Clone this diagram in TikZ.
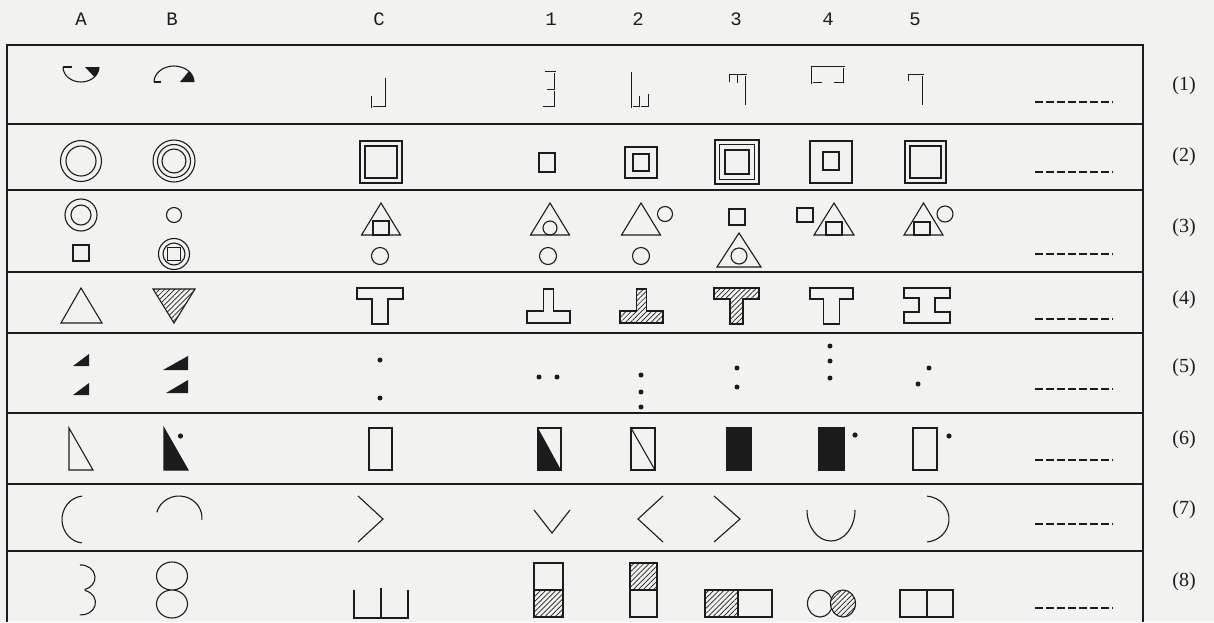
\documentclass[tikz,border=0pt]{standalone}
\usepackage{fontspec}
\setmainfont{Liberation Serif}
\setmonofont{Liberation Mono}
\usetikzlibrary{patterns.meta}
\definecolor{ink}{RGB}{28,28,28}
\definecolor{paper}{RGB}{242,242,240}
\begin{document}
\begin{tikzpicture}[x=1pt,y=-1pt,
  sym/.style={draw=ink,line width=1.1pt,line join=miter},
  hollow/.style={draw=paper,line width=0.9pt,preaction={draw=ink,line width=2.9pt}},
  hatch/.style={preaction={fill=paper},pattern={Lines[angle=45,distance=3.6pt,line width=0.7pt]},pattern color=ink},
  rule/.style={draw=ink,line width=1.5pt},
  blank/.style={draw=ink,line width=1.3pt,dash pattern=on 8pt off 3pt},
  head/.style={font=\ttfamily\fontsize{19}{19}\selectfont,text=ink},
  lab/.style={font=\fontsize{20}{20}\selectfont,text=ink}
]
\fill[paper] (0,0) rectangle (1214,622);
\useasboundingbox (0,0) rectangle (1214,622);

% header
\node[head] (hA) at (81,19) {A};
\node[head] (hB) at (172,19) {B};
\node[head] (hC) at (379,19) {C};
\node[head] (h1) at (551,19) {1};
\node[head] (h2) at (638,19) {2};
\node[head] (h3) at (736,19) {3};
\node[head] (h4) at (828,19) {4};
\node[head] (h5) at (915,19) {5};

% frame and rules
\draw[rule] (7,622) -- (7,45) -- (1143,45) -- (1143,622);
\foreach \y in {124,190,272,333,413,484,551} \draw[rule] (7,\y) -- (1143,\y);

% blanks and labels
\foreach \y in {102,172,254,319,389,460,524,608} \draw[blank] (1035,\y) -- (1113,\y);
\node[lab] (r1) at (1184,86) {(1)};
\node[lab] (r2) at (1184,157) {(2)};
\node[lab] (r3) at (1184,228) {(3)};
\node[lab] (r4) at (1184,300) {(4)};
\node[lab] (r5) at (1184,368) {(5)};
\node[lab] (r6) at (1184,440) {(6)};
\node[lab] (r7) at (1184,510) {(7)};
\node[lab] (r8) at (1184,582) {(8)};

% ---------- row 1
\draw[sym] (63,67) arc[start angle=180,end angle=360,x radius=18pt,y radius=15pt];
\draw[sym] (63,67) -- (72,67);
\fill[ink] (85,67) -- (99,67) arc[start angle=360,end angle=318,x radius=18pt,y radius=15pt] -- cycle;
\draw[sym] (154,82) arc[start angle=180,end angle=0,x radius=20pt,y radius=16pt];
\draw[sym] (154,82) -- (161,82);
\fill[ink] (180,82) -- (194,82) arc[start angle=0,end angle=42,x radius=20pt,y radius=16pt] -- cycle;
\draw[hollow] (372,96) -- (372,107) -- (386,107) -- (386,78);
\draw[hollow] (545,72) -- (555,72) -- (555,107) -- (543,107);
\draw[hollow] (555,90) -- (547,90);
\draw[hollow] (632,72) -- (632,107) -- (649,107) -- (649,94);
\draw[hollow] (640,107) -- (640,96);
\draw[hollow] (730,82) -- (730,75) -- (746,75) -- (746,105);
\draw[hollow] (738,75) -- (738,83);
\draw[hollow] (822,83) -- (812,83) -- (812,67) -- (844,67) -- (844,83) -- (834,83);
\draw[hollow] (909,81) -- (909,75) -- (923,75) -- (923,105);

% ---------- row 2
\draw[sym] (81,161) circle[radius=20.5pt] (81,161) circle[radius=15pt];
\draw[sym] (174,161) circle[radius=21pt] (174,161) circle[radius=16.5pt] (174,161) circle[radius=12pt];
\draw[sym] (360,141) rectangle (402,183) (365,146) rectangle (397,178);
\draw[sym] (539,153) rectangle (555,172);
\draw[sym] (625,147) rectangle (657,178) (633,154) rectangle (649,171);
\draw[sym] (715,140) rectangle (759,184) (719.5,144.5) rectangle (754.5,179.5) (725,150) rectangle (749,174);
\draw[sym] (810,141) rectangle (852,183) (823,152) rectangle (839,170);
\draw[sym] (905,141) rectangle (946,183) (910,146) rectangle (941,178);

% ---------- row 3
\draw[sym] (81,215) circle[radius=16pt] (81,215) circle[radius=10pt];
\draw[sym] (73,245) rectangle (89,261);
\draw[sym] (174,215) circle[radius=7.5pt];
\draw[sym] (174,254) circle[radius=15.5pt] (174,254) circle[radius=11pt];
\draw[sym] (167.5,247.5) rectangle (180.5,260.5);
\draw[sym] (361.5,235) -- (381,203) -- (400.5,235) -- cycle;
\draw[sym] (373,221) rectangle (389,235);
\draw[sym] (380,256) circle[radius=8.5pt];
\draw[sym] (530.5,235) -- (550,203) -- (569.5,235) -- cycle;
\draw[sym] (550,228) circle[radius=7pt];
\draw[sym] (548,256) circle[radius=8.5pt];
\draw[sym] (621.5,235) -- (641,203) -- (660.5,235) -- cycle;
\draw[sym] (665,214) circle[radius=7.5pt];
\draw[sym] (641,256) circle[radius=8.5pt];
\draw[sym] (729,209) rectangle (745,225);
\draw[sym] (717,267) -- (739,233) -- (761,267) -- cycle;
\draw[sym] (739,256) circle[radius=8pt];
\draw[sym] (797,208) rectangle (813,222);
\draw[sym] (814,235) -- (834,203) -- (854,235) -- cycle;
\draw[sym] (826,222) rectangle (842,235);
\draw[sym] (904,235) -- (923.5,203) -- (943,235) -- cycle;
\draw[sym] (914,222) rectangle (930,235);
\draw[sym] (945,214) circle[radius=8pt];

% ---------- row 4
\draw[sym] (61,323) -- (81,288) -- (102,323) -- cycle;
\draw[sym,hatch] (153,289) -- (195,289) -- (174,323) -- cycle;
\draw[sym] (357,288) -- (403,288) -- (403,299) -- (388,299) -- (388,324) -- (372,324) -- (372,299) -- (357,299) -- cycle;
\draw[sym] (543.5,289) -- (553.5,289) -- (553.5,311) -- (570,311) -- (570,323) -- (527,323) -- (527,311) -- (543.5,311) -- cycle;
\draw[sym,hatch] (636.5,289) -- (646.5,289) -- (646.5,311) -- (663,311) -- (663,323) -- (620,323) -- (620,311) -- (636.5,311) -- cycle;
\draw[sym,hatch] (714,288) -- (759,288) -- (759,299) -- (743,299) -- (743,324) -- (730,324) -- (730,299) -- (714,299) -- cycle;
\draw[sym] (810,288) -- (853,288) -- (853,299) -- (839.5,299) -- (839.5,324) -- (823.5,324) -- (823.5,299) -- (810,299) -- cycle;
\draw[sym] (904,288) -- (950,288) -- (950,298) -- (935,298) -- (935,312) -- (950,312) -- (950,323) -- (904,323) -- (904,312) -- (919,312) -- (919,298) -- (904,298) -- cycle;

% ---------- row 5
\fill[ink] (73,366) -- (89,366) -- (89,354) -- cycle;
\fill[ink] (73,395) -- (89,395) -- (89,383) -- cycle;
\fill[ink] (163,370) -- (188,370) -- (188,356) -- cycle;
\fill[ink] (166,393) -- (188,393) -- (188,380) -- cycle;
\foreach \p in {(380,360),(380,398),(539,377),(557,377),(641,375),(641,392),(641,407),(737,368),(737,387),(830,346),(830,361),(830,378),(929,368),(918,384)}
  \fill[ink] \p circle[radius=2.5pt];

% ---------- row 6
\draw[sym] (69,428) -- (69,470) -- (93,470) -- cycle;
\filldraw[sym,fill=ink] (164,428) -- (164,470) -- (188,470) -- cycle;
\fill[ink] (180.5,436) circle[radius=2.6pt];
\draw[sym] (369,428) rectangle (392,470);
\fill[ink] (538,428) -- (538,470) -- (561,470) -- cycle;
\draw[sym] (538,428) rectangle (561,470);
\draw[sym] (631,428) rectangle (655,470);
\draw[sym] (631,428) -- (655,470);
\filldraw[sym,fill=ink] (727,428) rectangle (751,470);
\filldraw[sym,fill=ink] (819,428) rectangle (844,470);
\fill[ink] (855,435) circle[radius=2.6pt];
\draw[sym] (913,428) rectangle (937,470);
\fill[ink] (949,436) circle[radius=2.6pt];

% ---------- row 7
\draw[sym] (82.1,496.1) arc[start angle=95,end angle=265,x radius=22pt,y radius=23.5pt];
\draw[sym] (156.8,512.3) arc[start angle=165,end angle=-5,x radius=23pt,y radius=22pt];
\draw[sym] (358,496) -- (383,519) -- (358,542);
\draw[sym] (534,510) -- (552,533) -- (570,510);
\draw[sym] (663,496) -- (638,519) -- (663,542);
\draw[sym] (714,496) -- (740,519) -- (714,542);
\draw[sym] (807,510) arc[start angle=180,end angle=360,x radius=24pt,y radius=31pt];
\draw[sym] (927.1,496.1) arc[start angle=85,end angle=-85,x radius=24pt,y radius=23pt];

% ---------- row 8
\draw[sym] (79.8,565) arc[start angle=95,end angle=-75,x radius=14pt,y radius=12.5pt];
\draw[sym] (84.75,590.4) arc[start angle=75,end angle=-95,x radius=14.5pt,y radius=12.5pt];
\draw[sym] (172,576) ellipse[x radius=15.5pt,y radius=14pt] (172,604) ellipse[x radius=15.5pt,y radius=14pt];
\draw[sym] (354,590) -- (354,618) -- (408,618) -- (408,590);
\draw[sym] (381,588) -- (381,618);
\draw[sym,hatch] (534,590) rectangle (563,617);
\draw[sym] (534,563) rectangle (563,590);
\draw[sym,hatch] (630,563) rectangle (657,590);
\draw[sym] (630,590) rectangle (657,617);
\draw[sym,hatch] (705,590) rectangle (738,617);
\draw[sym] (738,590) rectangle (772,617);
\draw[sym] (820,603.5) ellipse[x radius=12.5pt,y radius=13.5pt];
\draw[sym,hatch] (843,603.5) ellipse[x radius=12.5pt,y radius=13.5pt];
\draw[sym] (900,590) rectangle (953,617);
\draw[sym] (927,590) -- (927,617);
\end{tikzpicture}
\end{document}
